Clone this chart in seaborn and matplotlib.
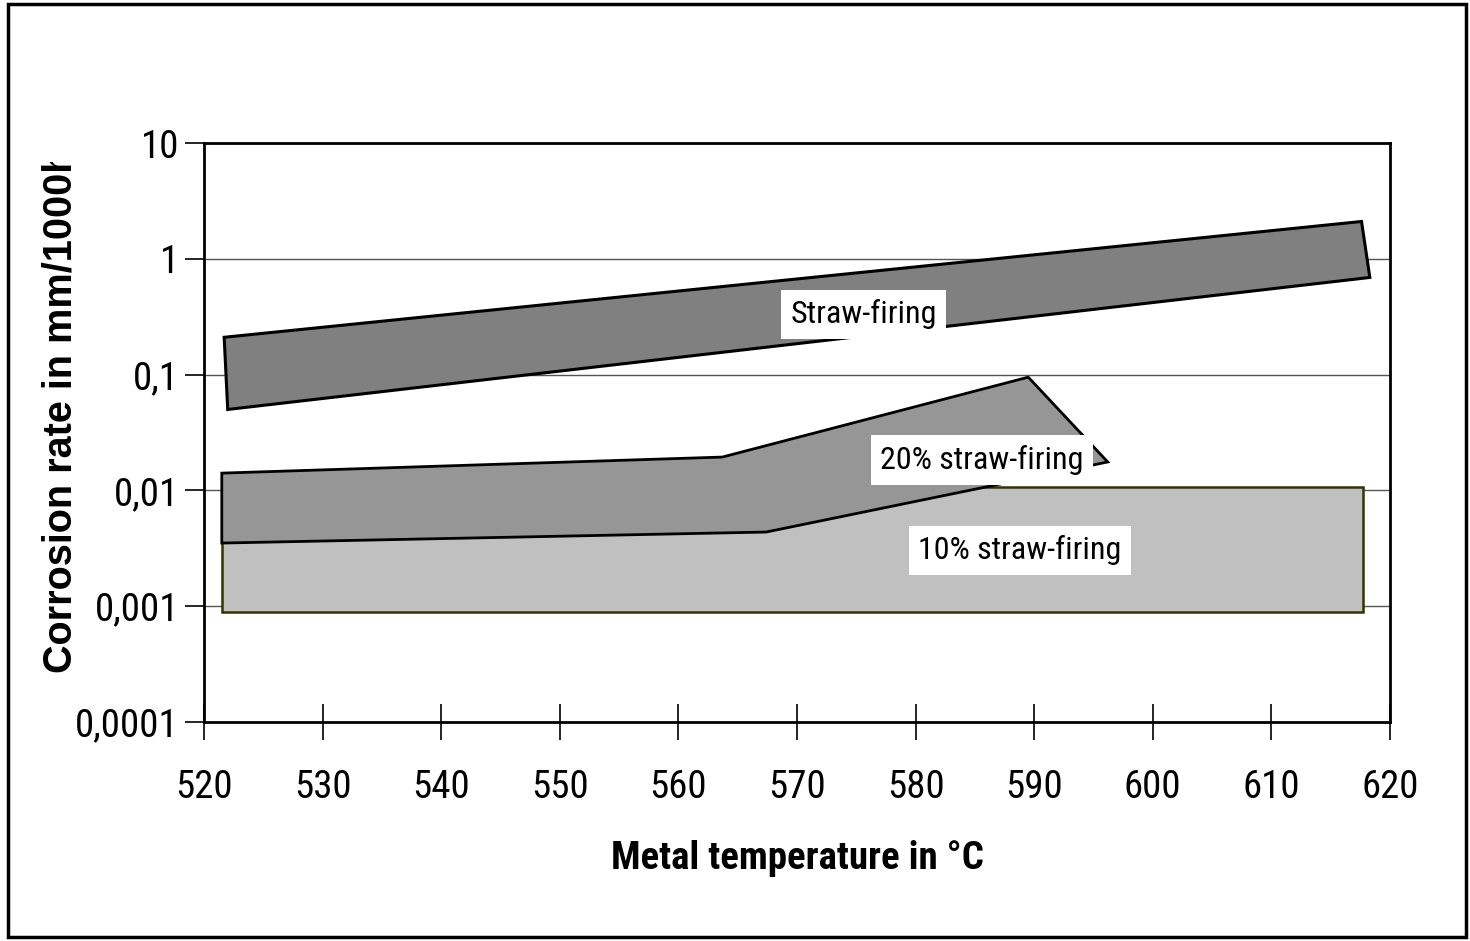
"""Corrosion rate bands vs. metal temperature."""
import matplotlib
matplotlib.use('Agg')
import matplotlib.pyplot as plt
from matplotlib.patches import Rectangle
from matplotlib.transforms import Bbox, TransformedBbox
import seaborn as sns

# band outlines (temperature in degC, rate in mm/1000h)
straw_temp = [521.7, 617.6, 618.3, 522.0]
straw_rate = [0.21, 2.1, 0.69, 0.05]

straw20_temp = [521.5, 563.7, 589.5, 596.2, 567.4, 521.5]
straw20_rate = [0.0141, 0.0194, 0.095, 0.0176, 0.00437, 0.00351]

straw10_temp = [521.5, 617.7, 617.7, 521.5]
straw10_rate = [0.0108, 0.0108, 0.00089, 0.00089]

labels = ['Straw-firing', '20% straw-firing', '10% straw-firing']
label_temp = [575.6, 585.6, 588.8]
label_rate = [0.333, 0.0183, 0.00305]

x_ticks = list(range(520, 621, 10))
y_ticks = [0.0001, 0.001, 0.01, 0.1, 1, 10]
y_ticklabels = ['0,0001', '0,001', '0,01', '0,1', '1', '10']

sns.set_style('white')
plt.rcParams['font.family'] = ['Roboto Condensed', 'Liberation Sans Narrow',
                               'Liberation Sans', 'DejaVu Sans']
plt.rcParams['text.color'] = 'black'
plt.rcParams['xtick.color'] = 'black'
plt.rcParams['ytick.color'] = 'black'
plt.rcParams['axes.labelcolor'] = 'black'

fig = plt.figure(figsize=(14.7, 9.41), dpi=100)
ax = fig.add_axes([204 / 1470, 1 - 722 / 941, (1390 - 204) / 1470, (722 - 143) / 941])

ax.set_yscale('log')
ax.set_xlim(520, 620)
ax.set_ylim(0.0001, 10)

# horizontal grid at every decade
for y in y_ticks[1:-1]:
    ax.axhline(y, color='#555555', lw=1.0, zorder=0)

ax.fill(straw10_temp, straw10_rate, facecolor='#c0c0c0', edgecolor='#333300', lw=1.8, zorder=1)
ax.fill(straw20_temp, straw20_rate, facecolor='#969696', edgecolor='black', lw=2.0, zorder=2)
ax.fill(straw_temp, straw_rate, facecolor='#808080', edgecolor='black', lw=2.2, zorder=3)

for text, tx, ty in zip(labels, label_temp, label_rate):
    ax.text(tx, ty, text, ha='center', va='center', fontsize=23, zorder=5,
            bbox=dict(facecolor='white', edgecolor='none', boxstyle='square,pad=0.3'))

ax.set_xticks(x_ticks)
ax.set_xticklabels([str(t) for t in x_ticks], fontsize=28)
ax.set_yticks(y_ticks)
ax.set_yticklabels(y_ticklabels, fontsize=28)
ax.yaxis.set_minor_locator(matplotlib.ticker.NullLocator())
ax.tick_params(axis='x', bottom=True, direction='inout', length=26, width=1.2, pad=21)
ax.tick_params(axis='y', left=True, direction='out', length=14, width=1.2, pad=4)

for side in ['left', 'bottom', 'top', 'right']:
    ax.spines[side].set_visible(True)
    ax.spines[side].set_color('black')
    ax.spines[side].set_linewidth(2.0)

ax.set_xlabel('Metal temperature in °C', fontsize=28, fontweight='bold', labelpad=24)
ax.set_ylabel('Corrosion rate in mm/1000h', fontsize=28.5, fontweight='bold',
              family=['Liberation Sans', 'DejaVu Sans'])
ax.yaxis.set_label_coords(-0.105, 0.537)

# the original y label is cut off at its end
ylab = ax.yaxis.label
ylab.set_clip_on(True)
ylab.set_clip_box(TransformedBbox(Bbox([[0, 0], [1, 1 - 162 / 941]]), fig.transFigure))

# outer frame round the whole chart
fig.patches.append(Rectangle((8 / 1470, 4 / 941), 1 - 12 / 1470, 1 - 8 / 941,
                             transform=fig.transFigure, fill=False,
                             edgecolor='black', lw=2.5))

fig.savefig('out.png', dpi=100)
